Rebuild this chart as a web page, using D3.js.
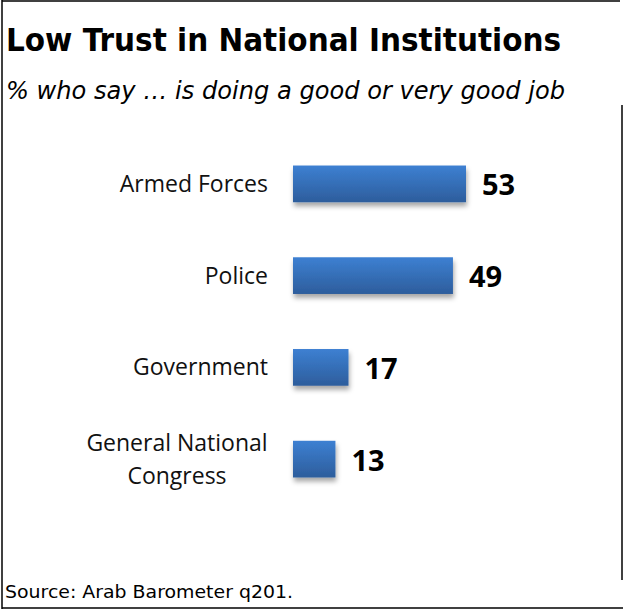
<!DOCTYPE html>
<html lang="en">
<head>
    <title>Low Trust in National Institutions</title>
    <style>
        body { margin: 0; background: #fff; }
        .cat { font-family: "Open Sans", sans-serif; font-size: 23px; fill: #111; }
        .val { font-family: "Open Sans", sans-serif; font-weight: bold; font-size: 29px; fill: #000; }
    </style>
    <script src="https://cdn.jsdelivr.net/npm/d3@7"></script>
</head>
<body>
    <svg></svg>
    <script>
        // data
        var categories = ["Armed Forces", "Police", "Government", "General National Congress"];
        var values = [53, 49, 17, 13];
        var labelLines = [["Armed Forces"], ["Police"], ["Government"], ["General National", "Congress"]];

        var W = 625, H = 610;
        var svg = d3.select("svg").attr("width", W).attr("height", H);

        // gradient + shadow for bars
        var defs = svg.append("defs");
        var grad = defs.append("linearGradient").attr("id", "barGrad")
            .attr("x1", 0).attr("y1", 0).attr("x2", 0).attr("y2", 1);
        grad.append("stop").attr("offset", "0%").attr("stop-color", "#3d80d2");
        grad.append("stop").attr("offset", "100%").attr("stop-color", "#2d5d9c");
        var f = defs.append("filter").attr("id", "shadow")
            .attr("x", "-10%").attr("y", "-20%").attr("width", "130%").attr("height", "160%");
        f.append("feDropShadow").attr("dx", 1).attr("dy", 4).attr("stdDeviation", 2.5)
            .attr("flood-color", "#000").attr("flood-opacity", 0.35);

        // frame
        var frame = svg.append("g").attr("stroke", "#000").attr("stroke-width", 1.5);
        frame.append("line").attr("x1", 2).attr("y1", 1).attr("x2", 620).attr("y2", 1);
        frame.append("line").attr("x1", 2).attr("y1", 0).attr("x2", 2).attr("y2", 609);
        frame.append("line").attr("x1", 2).attr("y1", 608).attr("x2", 623).attr("y2", 608);
        frame.append("line").attr("x1", 622).attr("y1", 105).attr("x2", 622).attr("y2", 580);

        // titles
        svg.append("text").attr("x", 6).attr("y", 51)
            .style("font-family", "DejaVu Sans, sans-serif").style("font-weight", "bold")
            .style("font-size", "32px").attr("textLength", 555).attr("lengthAdjust", "spacingAndGlyphs")
            .text("Low Trust in National Institutions");
        svg.append("text").attr("x", 6).attr("y", 99)
            .style("font-family", "DejaVu Sans, sans-serif").style("font-style", "italic")
            .style("font-size", "25px").attr("textLength", 559).attr("lengthAdjust", "spacingAndGlyphs")
            .text("% who say \u2026 is doing a good or very good job");
        svg.append("text").attr("x", 5).attr("y", 598)
            .style("font-family", "DejaVu Sans, sans-serif")
            .style("font-size", "18px").attr("textLength", 288).attr("lengthAdjust", "spacingAndGlyphs")
            .text("Source: Arab Barometer q201.");

        // scales
        var x = d3.scaleLinear().domain([0, 53]).range([293, 466]);
        var y = d3.scaleBand().domain(categories).range([138, 505])
            .paddingInner(0.6).paddingOuter(0.3);

        svg.selectAll(".bar")
            .data(categories)
            .enter().append("rect")
            .attr("class", "bar")
            .attr("x", x(0))
            .attr("y", function(d) { return y(d); })
            .attr("width", function(d, i) { return x(values[i]) - x(0); })
            .attr("height", y.bandwidth())
            .attr("fill", "url(#barGrad)")
            .attr("filter", "url(#shadow)");

        // value labels
        svg.selectAll(".val")
            .data(categories)
            .enter().append("text")
            .attr("class", "val")
            .attr("x", function(d, i) { return x(values[i]) + 16; })
            .attr("y", function(d) { return y(d) + y.bandwidth() / 2; })
            .attr("dy", "0.4em")
            .text(function(d, i) { return values[i]; });

        // category labels
        var cat = svg.selectAll(".cat")
            .data(categories)
            .enter().append("text")
            .attr("class", "cat")
            .attr("y", function(d) { return y(d) + y.bandwidth() / 2; });
        cat.each(function(d, i) {
            var t = d3.select(this), lines = labelLines[i];
            var multi = lines.length > 1;
            t.attr("text-anchor", multi ? "middle" : "end");
            lines.forEach(function(l, j) {
                t.append("tspan")
                    .attr("x", multi ? 177 : 268)
                    .attr("dy", multi ? (j === 0 ? "-8px" : "33px") : "0.35em")
                    .text(l);
            });
        });
    </script>
</body>
</html>
